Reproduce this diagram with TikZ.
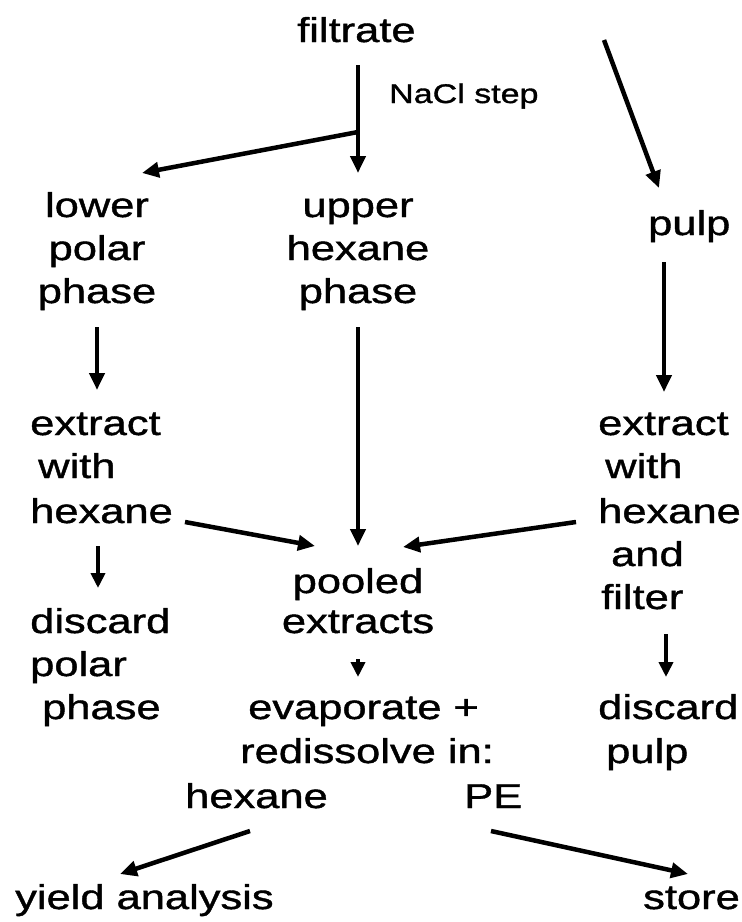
\documentclass[tikz,border=0pt]{standalone}
\usepackage{fontspec}
\setmainfont{Liberation Sans}[FakeStretch=1.26,FakeBold=1.2]
\usetikzlibrary{arrows.meta}
\begin{document}
\begin{tikzpicture}[x=1pt,y=-1pt,
  txt/.style={font=\fontsize{34.5}{43}\selectfont, inner sep=0pt, anchor=base west},
  ctxt/.style={font=\fontsize{34.5}{43}\selectfont, inner sep=0pt, anchor=base},
  lbl/.style={font=\fontsize{27}{32}\selectfont, inner sep=0pt, anchor=base west},
  arr/.style={-{Triangle[length=17pt,width=15pt]}, line width=4.5pt},
  sarr/.style={-{Triangle[length=15pt,width=14pt]}, line width=4.5pt}]
\useasboundingbox (0,0) rectangle (742,922);
% texts
\node[txt] (filtrate) at (297,42) {filtrate};
\node[lbl] (nacl) at (389,103) {NaCl step};
\node[ctxt] (lower1) at (97,217) {lower};
\node[ctxt] (lower2) at (97,260) {polar};
\node[ctxt] (lower3) at (97,303) {phase};
\node[ctxt] (upper1) at (358,217) {upper};
\node[ctxt] (upper2) at (358,260) {hexane};
\node[ctxt] (upper3) at (358,303) {phase};
\node[txt] (pulp) at (648,235) {pulp};
\node[txt] (exl1) at (30,435) {extract};
\node[txt] (exl2) at (38,478) {with};
\node[txt] (exl3) at (30,523) {hexane};
\node[txt] (exr1) at (598,435) {extract};
\node[txt] (exr2) at (605,478) {with};
\node[txt] (exr3) at (598,523) {hexane};
\node[txt] (exr4) at (611,566) {and};
\node[txt] (exr5) at (601,609) {filter};
\node[txt] (dl1) at (30,633) {discard};
\node[txt] (dl2) at (30,676) {polar};
\node[txt] (dl3) at (42,719) {phase};
\node[ctxt] (pool1) at (358,593) {pooled};
\node[ctxt] (pool2) at (358,633) {extracts};
\node[txt] (evap) at (248,719) {evaporate +};
\node[txt] (redis) at (240,763) {redissolve in:};
\node[txt] (hex) at (185,808) {hexane};
\node[txt] (pe) at (464,808) {PE};
\node[txt] (dr1) at (598,719) {discard};
\node[txt] (dr2) at (606,763) {pulp};
\node[txt] (yield) at (15,909) {yield analysis};
\node[txt] (store) at (643,909) {store};
% connector end points
\coordinate (a1s) at (358,65);   \coordinate (a1e) at (358,173);
\coordinate (a2s) at (358,132);  \coordinate (a2e) at (142,173);
\coordinate (a3s) at (604,40);   \coordinate (a3e) at (659,188);
\coordinate (a4s) at (97,327);   \coordinate (a4e) at (97,390);
\coordinate (a5s) at (358,327);  \coordinate (a5e) at (358,546);
\coordinate (a6s) at (664,262);  \coordinate (a6e) at (664,392);
\coordinate (a7s) at (185,522);  \coordinate (a7e) at (315,546);
\coordinate (a8s) at (576,522);  \coordinate (a8e) at (403,547);
\coordinate (a9s) at (98,546);   \coordinate (a9e) at (98,588);
\coordinate (a10s) at (358,659); \coordinate (a10e) at (358,677);
\coordinate (a11s) at (666,634); \coordinate (a11e) at (666,677);
\coordinate (a12s) at (250,831); \coordinate (a12e) at (120,874);
\coordinate (a13s) at (491,831); \coordinate (a13e) at (688,874);
% connectors
\draw[arr] (a1s) -- (a1e);
\draw[arr] (a2s) -- (a2e);
\draw[arr] (a3s) -- (a3e);
\draw[arr] (a4s) -- (a4e);
\draw[arr] (a5s) -- (a5e);
\draw[arr] (a6s) -- (a6e);
\draw[arr] (a7s) -- (a7e);
\draw[arr] (a8s) -- (a8e);
\draw[sarr] (a9s) -- (a9e);
\draw[sarr] (a10s) -- (a10e);
\draw[sarr] (a11s) -- (a11e);
\draw[arr] (a12s) -- (a12e);
\draw[arr] (a13s) -- (a13e);
\end{tikzpicture}
\end{document}
